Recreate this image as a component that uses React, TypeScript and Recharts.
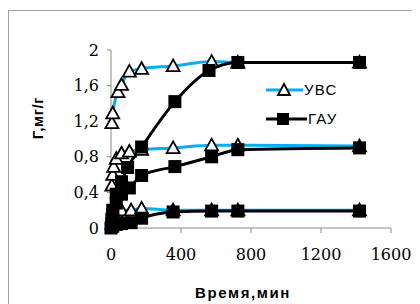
import React from "react";
import { LineChart, Line, XAxis, YAxis } from "recharts";

// Time (min) and adsorption Γ (mg/g)
const uvsTopT = [5, 10, 40, 60, 105, 175, 355, 575, 725, 1420];
const uvsTopV = [1.18, 1.29, 1.53, 1.61, 1.76, 1.79, 1.82, 1.87, 1.86, 1.86];
const uvsMidT = [5, 10, 15, 30, 60, 105, 175, 355, 575, 725, 1420];
const uvsMidV = [0.48, 0.6, 0.69, 0.78, 0.84, 0.86, 0.88, 0.9, 0.93, 0.93, 0.92];
const uvsLowT = [5, 10, 20, 30, 60, 115, 175, 355, 575, 725, 1420];
const uvsLowV = [0.05, 0.1, 0.15, 0.18, 0.2, 0.2, 0.22, 0.2, 0.2, 0.2, 0.2];

const gauTopT = [5, 10, 30, 60, 95, 175, 365, 560, 725, 1420];
const gauTopV = [0.1, 0.2, 0.38, 0.52, 0.68, 0.91, 1.42, 1.77, 1.86, 1.86];
const gauMidT = [5, 10, 30, 60, 105, 175, 365, 575, 725, 1420];
const gauMidV = [0.05, 0.15, 0.28, 0.38, 0.45, 0.59, 0.69, 0.8, 0.88, 0.9];
const gauLowT = [0, 10, 30, 60, 115, 175, 355, 575, 725, 1420];
const gauLowV = [0, 0.02, 0.04, 0.05, 0.06, 0.11, 0.18, 0.19, 0.19, 0.19];

const xTicks = [0, 400, 800, 1200, 1600];
const yTicks = [0, 0.4, 0.8, 1.2, 1.6, 2];
const seriesNames = ["УВС", "ГАУ"];

const BLUE = "#00B0F0";
const BLACK = "#000000";

const mk = (t: number[], v: number[]) => t.map((x, i) => ({ t: x, v: v[i] }));

const Tri = (props: any) => {
  const { cx, cy, index } = props;
  if (cx == null || cy == null) return <g key={index} />;
  const s = 6.5;
  return (
    <path
      key={index}
      d={`M${cx},${cy - s} L${cx + s},${cy + s * 0.8} L${cx - s},${cy + s * 0.8} Z`}
      fill="#fff"
      stroke="#000"
      strokeWidth={1.8}
    />
  );
};

const Sq = (props: any) => {
  const { cx, cy, index } = props;
  if (cx == null || cy == null) return <g key={index} />;
  const s = 6.5;
  return <rect key={index} x={cx - s} y={cy - s} width={2 * s} height={2 * s} fill="#000" />;
};

const fmt = (v: number) => String(v).replace(".", ",");

const LegendBox = () => (
  <svg width={110} height={56}>
    <line x1={0} y1={10} x2={37} y2={10} stroke={BLUE} strokeWidth={3} />
    <path d="M18,4 L24,15 L12,15 Z" fill="#fff" stroke="#000" strokeWidth={1.8} />
    <text x={38} y={15} fontFamily="Liberation Sans, Arial, sans-serif" fontSize={15} letterSpacing={1.2} fill="#000">
      {seriesNames[0]}
    </text>
    <line x1={0} y1={39} x2={41} y2={39} stroke={BLACK} strokeWidth={3} />
    <rect x={11} y={33} width={12} height={12} fill="#000" />
    <text x={42} y={44} fontFamily="Liberation Sans, Arial, sans-serif" fontSize={15} letterSpacing={1.2} fill="#000">
      {seriesNames[1]}
    </text>
  </svg>
);

export default function App() {
  const tickFont = { fontFamily: "DejaVu Serif, serif", fontSize: 16, fill: "#000" };
  return (
    <div style={{ position: "relative", width: 412, height: 296, overflow: "hidden" }}>
      <div
        style={{
          position: "absolute",
          left: 0,
          top: 2,
          width: 440,
          height: 320,
          border: "1px solid #a0a0a0",
          boxSizing: "border-box",
        }}
      />
      <div style={{ position: "absolute", left: 0, top: 0 }}>
        <LineChart width={412} height={296} margin={{ top: 42, right: 29, bottom: 26, left: 41 }}>
          <XAxis
            dataKey="t"
            type="number"
            domain={[0, 1600]}
            ticks={xTicks}
            tick={tickFont}
            tickSize={5}
            tickMargin={16}
            height={50}
            stroke="#888"
            allowDuplicatedCategory={false}
            label={{
              content: () => (
                <text
                  x={235}
                  y={290}
                  textAnchor="middle"
                  fontFamily="Liberation Sans, Arial, sans-serif"
                  fontWeight="bold"
                  fontSize={15}
                  letterSpacing={1.6}
                  fill="#000"
                >
                  Время,мин
                </text>
              ),
            }}
          />
          <YAxis
            type="number"
            domain={[0, 2]}
            ticks={yTicks}
            tickFormatter={fmt}
            tick={tickFont}
            tickSize={4}
            tickMargin={8}
            width={62}
            stroke="#888"
            label={{
              content: () => (
                <text
                  x={35}
                  y={110}
                  transform="rotate(-90 35 110)"
                  textAnchor="middle"
                  fontFamily="Liberation Sans, Arial, sans-serif"
                  fontWeight="bold"
                  fontSize={15}
                  letterSpacing={0.6}
                  fill="#000"
                >
                  Г,мг/г
                </text>
              ),
            }}
          />
          <Line data={mk(uvsTopT, uvsTopV)} dataKey="v" type="monotone" stroke={BLUE} strokeWidth={3} dot={Tri} isAnimationActive={false} />
          <Line data={mk(uvsMidT, uvsMidV)} dataKey="v" type="monotone" stroke={BLUE} strokeWidth={3} dot={Tri} isAnimationActive={false} />
          <Line data={mk(uvsLowT, uvsLowV)} dataKey="v" type="monotone" stroke={BLUE} strokeWidth={3} dot={Tri} isAnimationActive={false} />
          <Line data={mk(gauTopT, gauTopV)} dataKey="v" type="monotone" stroke={BLACK} strokeWidth={3} dot={Sq} isAnimationActive={false} />
          <Line data={mk(gauMidT, gauMidV)} dataKey="v" type="monotone" stroke={BLACK} strokeWidth={3} dot={Sq} isAnimationActive={false} />
          <Line data={mk(gauLowT, gauLowV)} dataKey="v" type="monotone" stroke={BLACK} strokeWidth={3} dot={Sq} isAnimationActive={false} />
        </LineChart>
      </div>
      <div style={{ position: "absolute", left: 258, top: 72 }}>
        <LegendBox />
      </div>
    </div>
  );
}
